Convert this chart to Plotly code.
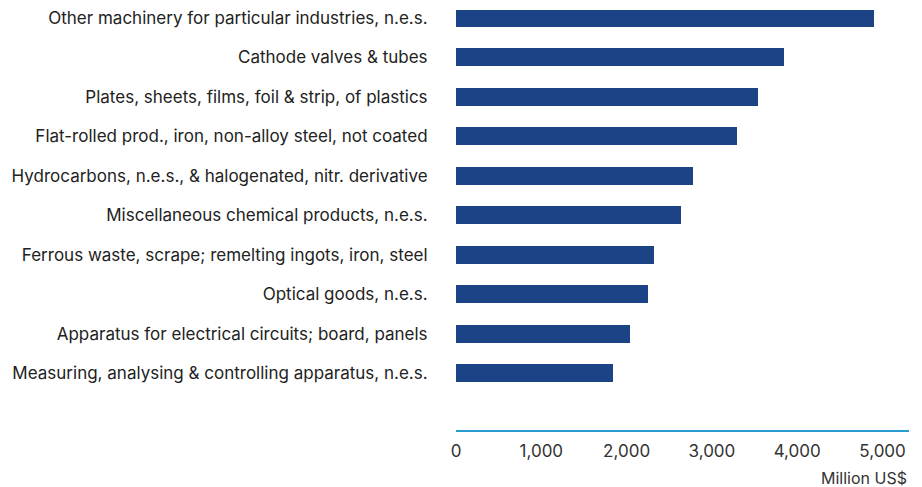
import plotly.graph_objects as go

products = [
    "Other machinery for particular industries, n.e.s.",
    "Cathode valves & tubes",
    "Plates, sheets, films, foil & strip, of plastics",
    "Flat-rolled prod., iron, non-alloy steel, not coated",
    "Hydrocarbons, n.e.s., & halogenated, nitr. derivative",
    "Miscellaneous chemical products, n.e.s.",
    "Ferrous waste, scrape; remelting ingots, iron, steel",
    "Optical goods, n.e.s.",
    "Apparatus for electrical circuits; board, panels",
    "Measuring, analysing & controlling apparatus, n.e.s.",
]
imports_musd = [4905, 3840, 3535, 3290, 2775, 2635, 2320, 2250, 2035, 1845]
x_ticks = [0, 1000, 2000, 3000, 4000, 5000]
x_tick_labels = ["0", "1,000", "2,000", "3,000", "4,000", "5,000"]

fig = go.Figure()
fig.add_trace(go.Bar(
    x=imports_musd,
    y=products,
    orientation="h",
    width=0.454,
    marker=dict(color="#1b4386", line=dict(width=0)),
    hovertemplate="%{y}: %{x:,}<extra></extra>",
))

# page body has an 8px margin, so the figure is a bit smaller than the window
fig.update_layout(
    width=914,
    height=479,
    margin=dict(l=448, r=13, t=0, b=57),
    paper_bgcolor="white",
    plot_bgcolor="white",
    font=dict(family="Inter, Liberation Sans, sans-serif", size=17, color="#222222"),
    showlegend=False,
    bargap=0,
    xaxis=dict(
        range=[0, 5310],
        tickvals=x_ticks,
        ticktext=x_tick_labels,
        showgrid=False,
        zeroline=False,
        showline=True,
        linecolor="#2a9bd0",
        linewidth=1.5,
        ticks="outside",
        ticklen=5,
        tickcolor="rgba(0,0,0,0)",
        tickfont=dict(size=17, color="#333333"),
    ),
    yaxis=dict(
        type="category",
        range=[10.44, -0.2],
        showgrid=False,
        zeroline=False,
        showline=False,
        ticks="outside",
        ticklen=24,
        tickcolor="rgba(0,0,0,0)",
        tickfont=dict(size=17, color="#222222"),
    ),
    annotations=[dict(
        text="Million US$",
        xref="paper", yref="paper",
        x=1, y=0, xanchor="right", yanchor="top",
        yshift=-36,
        showarrow=False,
        font=dict(size=16, color="#333333"),
    )],
)

fig.write_html("out.html")
